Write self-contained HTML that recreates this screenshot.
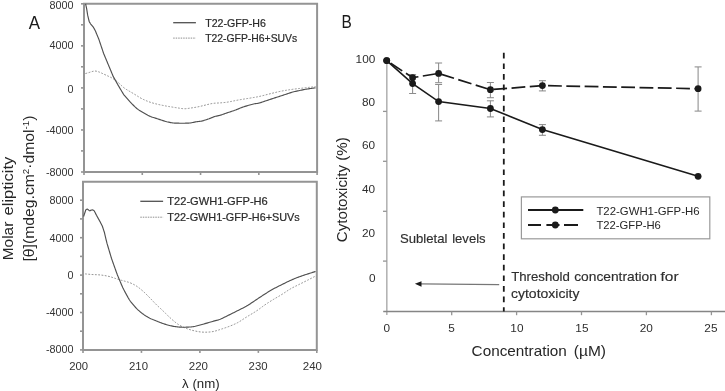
<!DOCTYPE html>
<html><head><meta charset="utf-8"><style>
html,body{margin:0;padding:0;background:#fff;width:725px;height:391px;overflow:hidden}
svg{display:block;will-change:transform}
text{font-family:"Liberation Sans",sans-serif;fill:#3a3a3a}
.tk{font-size:10.8px;fill:#333}
.tkb{font-size:11.8px;fill:#2e2e2e}
.lg{font-size:10.4px;fill:#2a2a2a;stroke:#2a2a2a;stroke-width:0.2px}
.lgb{font-size:11.2px;fill:#262626}
.xl{font-size:11.2px;fill:#333}
.ti{font-size:14.6px;fill:#262626}
.ti2{font-size:13px;fill:#262626}
.ti3{font-size:12.4px;fill:#2e2e2e;stroke:#2e2e2e;stroke-width:0.15px}
.big{font-size:19px;fill:#1a1a1a}
.big2{font-size:18px;fill:#1a1a1a}
</style></head><body>
<svg width="725" height="391" viewBox="0 0 725 391">
<path d="M84.0,3.8 V172 H317.1 V3.8 Z" fill="none" stroke="#949494" stroke-width="2"/>
<line x1="81.0" y1="3.8" x2="84.0" y2="3.8" stroke="#949494" stroke-width="1.6"/>
<line x1="81.0" y1="45.85" x2="84.0" y2="45.85" stroke="#949494" stroke-width="1.6"/>
<line x1="81.0" y1="87.9" x2="84.0" y2="87.9" stroke="#949494" stroke-width="1.6"/>
<line x1="81.0" y1="129.95" x2="84.0" y2="129.95" stroke="#949494" stroke-width="1.6"/>
<line x1="81.0" y1="172" x2="84.0" y2="172" stroke="#949494" stroke-width="1.6"/>
<line x1="81.0" y1="24.8" x2="84.0" y2="24.8" stroke="#949494" stroke-width="1.6"/>
<line x1="81.0" y1="66.8" x2="84.0" y2="66.8" stroke="#949494" stroke-width="1.6"/>
<line x1="81.0" y1="108.9" x2="84.0" y2="108.9" stroke="#949494" stroke-width="1.6"/>
<line x1="81.0" y1="150.9" x2="84.0" y2="150.9" stroke="#949494" stroke-width="1.6"/>
<line x1="84.00" y1="172" x2="84.00" y2="175" stroke="#949494" stroke-width="1.6"/>
<line x1="142.28" y1="172" x2="142.28" y2="175" stroke="#949494" stroke-width="1.6"/>
<line x1="200.55" y1="172" x2="200.55" y2="175" stroke="#949494" stroke-width="1.6"/>
<line x1="258.83" y1="172" x2="258.83" y2="175" stroke="#949494" stroke-width="1.6"/>
<line x1="317.10" y1="172" x2="317.10" y2="175" stroke="#949494" stroke-width="1.6"/>
<text x="73.5" y="8.9" text-anchor="end" class="tk">8000</text>
<text x="73.5" y="49.3" text-anchor="end" class="tk">4000</text>
<text x="73.5" y="93.0" text-anchor="end" class="tk">0</text>
<text x="73.5" y="134.3" text-anchor="end" class="tk">-4000</text>
<text x="73.5" y="176.1" text-anchor="end" class="tk">-8000</text>
<path d="M83.0,181.7 V349.9 H316.8 V181.7 Z" fill="none" stroke="#949494" stroke-width="2"/>
<line x1="80.0" y1="200.2" x2="83.0" y2="200.2" stroke="#949494" stroke-width="1.6"/>
<line x1="80.0" y1="237.7" x2="83.0" y2="237.7" stroke="#949494" stroke-width="1.6"/>
<line x1="80.0" y1="275.1" x2="83.0" y2="275.1" stroke="#949494" stroke-width="1.6"/>
<line x1="80.0" y1="312.5" x2="83.0" y2="312.5" stroke="#949494" stroke-width="1.6"/>
<line x1="80.0" y1="349.9" x2="83.0" y2="349.9" stroke="#949494" stroke-width="1.6"/>
<line x1="80.0" y1="218.9" x2="83.0" y2="218.9" stroke="#949494" stroke-width="1.6"/>
<line x1="80.0" y1="256.4" x2="83.0" y2="256.4" stroke="#949494" stroke-width="1.6"/>
<line x1="80.0" y1="293.8" x2="83.0" y2="293.8" stroke="#949494" stroke-width="1.6"/>
<line x1="80.0" y1="331.2" x2="83.0" y2="331.2" stroke="#949494" stroke-width="1.6"/>
<line x1="83.00" y1="349.9" x2="83.00" y2="352.9" stroke="#949494" stroke-width="1.6"/>
<line x1="141.45" y1="349.9" x2="141.45" y2="352.9" stroke="#949494" stroke-width="1.6"/>
<line x1="199.90" y1="349.9" x2="199.90" y2="352.9" stroke="#949494" stroke-width="1.6"/>
<line x1="258.35" y1="349.9" x2="258.35" y2="352.9" stroke="#949494" stroke-width="1.6"/>
<line x1="316.80" y1="349.9" x2="316.80" y2="352.9" stroke="#949494" stroke-width="1.6"/>
<text x="73.5" y="203.9" text-anchor="end" class="tk">8000</text>
<text x="73.5" y="241.6" text-anchor="end" class="tk">4000</text>
<text x="73.5" y="279.2" text-anchor="end" class="tk">0</text>
<text x="73.5" y="316.4" text-anchor="end" class="tk">-4000</text>
<text x="73.5" y="353.4" text-anchor="end" class="tk">-8000</text>
<path d="M85.45,73.55 L86.01,73.40 L86.72,73.21 L87.53,72.98 L88.42,72.72 L89.34,72.44 L90.28,72.14 L91.22,71.84 L92.15,71.54 L93.08,71.29 L94.01,71.12 L94.94,71.05 L95.87,71.10 L96.80,71.26 L97.73,71.52 L98.65,71.84 L99.57,72.20 L100.49,72.59 L101.41,72.99 L102.32,73.41 L103.23,73.83 L104.14,74.26 L105.04,74.68 L105.95,75.11 L106.86,75.53 L107.77,75.94 L108.68,76.36 L109.59,76.79 L110.49,77.22 L111.37,77.68 L112.24,78.17 L113.10,78.69 L113.93,79.23 L114.76,79.79 L115.57,80.38 L116.37,80.98 L117.15,81.60 L117.91,82.24 L118.66,82.91 L119.40,83.59 L120.12,84.28 L120.83,84.98 L121.55,85.67 L122.28,86.35 L123.03,87.01 L123.80,87.64 L124.59,88.24 L125.41,88.81 L126.25,89.35 L127.10,89.87 L127.96,90.39 L128.82,90.90 L129.69,91.40 L130.55,91.91 L131.42,92.41 L132.28,92.92 L133.15,93.43 L134.01,93.94 L134.87,94.46 L135.72,94.99 L136.57,95.52 L137.41,96.06 L138.26,96.59 L139.11,97.12 L139.97,97.63 L140.84,98.13 L141.71,98.61 L142.60,99.06 L143.50,99.50 L144.41,99.92 L145.33,100.33 L146.25,100.72 L147.17,101.10 L148.11,101.47 L149.05,101.82 L149.99,102.15 L150.94,102.46 L151.90,102.76 L152.86,103.05 L153.82,103.32 L154.79,103.58 L155.76,103.82 L156.73,104.06 L157.71,104.29 L158.69,104.52 L159.66,104.74 L160.64,104.95 L161.62,105.16 L162.60,105.37 L163.59,105.56 L164.57,105.75 L165.56,105.93 L166.55,106.10 L167.53,106.27 L168.52,106.44 L169.51,106.61 L170.50,106.77 L171.49,106.94 L172.48,107.10 L173.47,107.26 L174.46,107.42 L175.45,107.58 L176.44,107.73 L177.43,107.88 L178.42,108.03 L179.41,108.18 L180.40,108.33 L181.39,108.47 L182.38,108.60 L183.37,108.69 L184.35,108.73 L185.34,108.72 L186.32,108.66 L187.31,108.55 L188.29,108.41 L189.28,108.25 L190.27,108.09 L191.26,107.94 L192.25,107.80 L193.24,107.66 L194.23,107.52 L195.22,107.36 L196.21,107.19 L197.19,107.01 L198.17,106.80 L199.15,106.59 L200.12,106.36 L201.10,106.13 L202.08,105.90 L203.05,105.66 L204.02,105.42 L205.00,105.18 L205.97,104.93 L206.94,104.69 L207.91,104.45 L208.88,104.21 L209.86,103.98 L210.84,103.76 L211.82,103.57 L212.80,103.41 L213.79,103.29 L214.78,103.20 L215.78,103.13 L216.77,103.08 L217.77,103.03 L218.77,102.98 L219.77,102.92 L220.77,102.84 L221.77,102.76 L222.77,102.68 L223.77,102.59 L224.76,102.48 L225.76,102.37 L226.75,102.24 L227.74,102.09 L228.73,101.92 L229.71,101.73 L230.69,101.54 L231.67,101.33 L232.65,101.13 L233.64,100.93 L234.62,100.72 L235.60,100.53 L236.58,100.33 L237.57,100.15 L238.56,99.96 L239.54,99.79 L240.53,99.62 L241.52,99.46 L242.51,99.29 L243.50,99.14 L244.49,98.98 L245.48,98.83 L246.47,98.67 L247.46,98.52 L248.45,98.36 L249.44,98.20 L250.43,98.04 L251.42,97.88 L252.41,97.72 L253.40,97.55 L254.39,97.38 L255.37,97.21 L256.36,97.04 L257.35,96.85 L258.33,96.66 L259.31,96.45 L260.29,96.23 L261.26,96.00 L262.24,95.77 L263.21,95.52 L264.18,95.28 L265.15,95.03 L266.12,94.78 L267.09,94.53 L268.07,94.28 L269.04,94.04 L270.01,93.79 L270.98,93.55 L271.96,93.31 L272.93,93.07 L273.90,92.83 L274.88,92.59 L275.85,92.35 L276.82,92.11 L277.80,91.87 L278.77,91.65 L279.75,91.44 L280.73,91.24 L281.72,91.05 L282.70,90.88 L283.69,90.70 L284.68,90.54 L285.67,90.37 L286.66,90.20 L287.65,90.04 L288.64,89.88 L289.63,89.73 L290.62,89.58 L291.61,89.44 L292.60,89.30 L293.60,89.17 L294.59,89.04 L295.59,88.92 L296.58,88.80 L297.58,88.69 L298.57,88.57 L299.57,88.46 L300.57,88.35 L301.56,88.23 L302.56,88.12 L303.55,88.01 L304.55,87.89 L305.55,87.77 L306.54,87.65 L307.54,87.53 L308.53,87.41 L309.53,87.29 L310.52,87.17 L311.50,87.05 L312.46,86.94 L313.38,86.83 L314.22,86.74 L314.94,86.66 L315.52,86.60" fill="none" stroke="#8e8e8e" stroke-width="1.0" stroke-dasharray="1.8 1.5"/>
<path d="M85.60,3.80 L85.81,4.78 L86.02,5.76 L86.23,6.74 L86.43,7.72 L86.63,8.71 L86.79,9.70 L86.95,10.69 L87.11,11.68 L87.27,12.67 L87.43,13.66 L87.59,14.65 L87.78,15.63 L88.02,16.61 L88.25,17.58 L88.49,18.56 L88.72,19.53 L88.96,20.51 L89.20,21.48 L89.71,22.35 L90.22,23.21 L90.75,24.06 L91.39,24.83 L92.04,25.60 L92.68,26.36 L93.32,27.14 L93.81,28.01 L94.29,28.89 L94.78,29.77 L95.27,30.64 L95.66,31.57 L96.04,32.50 L96.43,33.42 L96.81,34.35 L97.19,35.28 L97.58,36.20 L97.96,37.13 L98.34,38.06 L98.73,38.98 L99.08,39.92 L99.39,40.87 L99.71,41.83 L100.03,42.78 L100.35,43.73 L100.67,44.68 L100.99,45.63 L101.31,46.58 L101.63,47.53 L101.95,48.48 L102.27,49.43 L102.59,50.38 L102.91,51.33 L103.23,52.29 L103.54,53.24 L103.92,54.17 L104.31,55.09 L104.69,56.02 L105.08,56.94 L105.47,57.87 L105.85,58.79 L106.24,59.72 L106.62,60.65 L107.01,61.57 L107.40,62.50 L107.78,63.42 L108.17,64.35 L108.56,65.27 L108.94,66.20 L109.33,67.13 L109.72,68.05 L110.10,68.98 L110.49,69.90 L110.87,70.83 L111.26,71.75 L111.65,72.68 L112.03,73.60 L112.42,74.53 L112.81,75.46 L113.19,76.38 L113.68,77.26 L114.17,78.13 L114.66,79.01 L115.15,79.89 L115.63,80.76 L116.12,81.64 L116.61,82.51 L117.10,83.39 L117.59,84.27 L118.08,85.14 L118.59,86.00 L119.11,86.86 L119.62,87.73 L120.13,88.59 L120.64,89.45 L121.16,90.31 L121.67,91.18 L122.18,92.04 L122.69,92.90 L123.20,93.76 L123.72,94.62 L124.38,95.38 L125.04,96.14 L125.70,96.89 L126.36,97.65 L127.01,98.41 L127.67,99.16 L128.33,99.92 L128.99,100.67 L129.66,101.42 L130.33,102.17 L131.03,102.89 L131.73,103.61 L132.43,104.32 L133.14,105.03 L133.85,105.74 L134.57,106.44 L135.29,107.13 L136.03,107.80 L136.79,108.44 L137.57,109.06 L138.37,109.65 L139.20,110.22 L140.03,110.76 L140.88,111.29 L141.74,111.81 L142.60,112.32 L143.47,112.83 L144.34,113.33 L145.21,113.83 L146.08,114.31 L146.97,114.79 L147.85,115.26 L148.75,115.70 L149.65,116.12 L150.57,116.51 L151.50,116.88 L152.44,117.21 L153.39,117.52 L154.35,117.82 L155.30,118.12 L156.26,118.42 L157.22,118.72 L158.17,119.03 L159.12,119.34 L160.08,119.66 L161.03,119.97 L161.98,120.29 L162.94,120.59 L163.89,120.89 L164.85,121.18 L165.82,121.46 L166.78,121.72 L167.76,121.96 L168.73,122.18 L169.71,122.38 L170.70,122.56 L171.69,122.73 L172.68,122.87 L173.67,122.98 L174.66,123.07 L175.66,123.13 L176.66,123.16 L177.66,123.18 L178.67,123.19 L179.67,123.20 L180.67,123.20 L181.67,123.20 L182.68,123.20 L183.68,123.20 L184.68,123.20 L185.69,123.19 L186.69,123.18 L187.69,123.15 L188.68,123.09 L189.67,123.00 L190.66,122.88 L191.64,122.71 L192.62,122.52 L193.59,122.32 L194.57,122.12 L195.55,121.94 L196.54,121.78 L197.52,121.65 L198.51,121.53 L199.50,121.40 L200.49,121.25 L201.46,121.07 L202.43,120.84 L203.40,120.59 L204.36,120.31 L205.31,120.01 L206.27,119.70 L207.22,119.39 L208.16,119.06 L209.11,118.72 L210.04,118.36 L210.97,117.99 L211.89,117.61 L212.81,117.23 L213.74,116.88 L214.68,116.57 L215.63,116.30 L216.59,116.07 L217.56,115.87 L218.52,115.66 L219.49,115.43 L220.45,115.17 L221.39,114.87 L222.34,114.55 L223.28,114.21 L224.22,113.87 L225.16,113.53 L226.11,113.20 L227.06,112.88 L228.01,112.56 L228.96,112.25 L229.92,111.94 L230.87,111.63 L231.82,111.32 L232.77,111.00 L233.72,110.67 L234.66,110.33 L235.60,109.98 L236.53,109.61 L237.46,109.24 L238.39,108.85 L239.32,108.47 L240.24,108.09 L241.18,107.72 L242.11,107.37 L243.05,107.03 L244.00,106.72 L244.96,106.42 L245.92,106.13 L246.88,105.85 L247.84,105.57 L248.80,105.29 L249.76,105.00 L250.72,104.71 L251.68,104.44 L252.65,104.20 L253.62,103.98 L254.60,103.80 L255.58,103.64 L256.56,103.49 L257.54,103.32 L258.51,103.12 L259.48,102.89 L260.44,102.63 L261.40,102.34 L262.35,102.04 L263.31,101.72 L264.26,101.40 L265.21,101.08 L266.16,100.76 L267.11,100.44 L268.06,100.12 L269.01,99.80 L269.96,99.48 L270.91,99.17 L271.86,98.85 L272.82,98.54 L273.77,98.23 L274.72,97.92 L275.68,97.61 L276.63,97.30 L277.59,97.00 L278.54,96.69 L279.50,96.38 L280.45,96.07 L281.41,95.76 L282.36,95.44 L283.31,95.13 L284.26,94.81 L285.21,94.49 L286.16,94.17 L287.11,93.85 L288.06,93.53 L289.01,93.21 L289.97,92.90 L290.92,92.60 L291.88,92.31 L292.85,92.04 L293.81,91.79 L294.79,91.55 L295.77,91.33 L296.75,91.12 L297.73,90.91 L298.71,90.70 L299.69,90.49 L300.67,90.28 L301.65,90.07 L302.63,89.86 L303.61,89.67 L304.60,89.48 L305.59,89.30 L306.57,89.13 L307.56,88.96 L308.55,88.81 L309.54,88.66 L310.53,88.51 L311.51,88.37 L312.47,88.24 L313.39,88.12 L314.22,88.00 L314.95,87.91 L315.52,87.83" fill="none" stroke="#505050" stroke-width="1.15"/>
<path d="M85.08,273.90 L85.66,273.95 L86.39,274.02 L87.23,274.10 L88.15,274.19 L89.11,274.28 L90.10,274.37 L91.09,274.45 L92.09,274.52 L93.09,274.57 L94.09,274.62 L95.10,274.66 L96.10,274.70 L97.10,274.74 L98.10,274.79 L99.10,274.86 L100.10,274.94 L101.09,275.05 L102.08,275.18 L103.08,275.32 L104.07,275.47 L105.06,275.63 L106.04,275.81 L107.03,275.99 L108.01,276.20 L108.98,276.42 L109.95,276.68 L110.91,276.96 L111.86,277.26 L112.81,277.57 L113.76,277.89 L114.71,278.21 L115.66,278.54 L116.61,278.85 L117.57,279.16 L118.53,279.46 L119.49,279.74 L120.45,280.01 L121.42,280.28 L122.39,280.54 L123.36,280.79 L124.33,281.05 L125.30,281.31 L126.26,281.57 L127.23,281.84 L128.18,282.13 L129.13,282.45 L130.07,282.79 L130.99,283.17 L131.90,283.58 L132.80,284.01 L133.70,284.46 L134.58,284.93 L135.45,285.42 L136.30,285.94 L137.13,286.49 L137.95,287.07 L138.75,287.67 L139.53,288.28 L140.31,288.92 L141.08,289.55 L141.85,290.20 L142.61,290.86 L143.36,291.52 L144.10,292.20 L144.83,292.88 L145.55,293.58 L146.27,294.28 L146.98,294.99 L147.69,295.69 L148.40,296.40 L149.10,297.12 L149.81,297.83 L150.51,298.55 L151.20,299.27 L151.89,300.00 L152.58,300.73 L153.27,301.46 L153.96,302.19 L154.65,302.91 L155.35,303.63 L156.06,304.34 L156.77,305.05 L157.50,305.74 L158.23,306.43 L158.96,307.11 L159.70,307.78 L160.44,308.46 L161.18,309.14 L161.91,309.83 L162.64,310.51 L163.37,311.21 L164.09,311.91 L164.80,312.61 L165.51,313.32 L166.22,314.02 L166.94,314.73 L167.65,315.44 L168.36,316.14 L169.08,316.84 L169.81,317.53 L170.55,318.20 L171.30,318.87 L172.06,319.53 L172.82,320.18 L173.59,320.82 L174.36,321.46 L175.14,322.10 L175.92,322.72 L176.71,323.33 L177.52,323.91 L178.35,324.46 L179.20,324.99 L180.07,325.48 L180.94,325.96 L181.83,326.42 L182.73,326.87 L183.63,327.30 L184.54,327.72 L185.46,328.11 L186.39,328.48 L187.33,328.82 L188.28,329.14 L189.23,329.44 L190.19,329.73 L191.16,330.00 L192.12,330.27 L193.09,330.52 L194.07,330.76 L195.04,330.99 L196.02,331.20 L197.01,331.39 L197.99,331.58 L198.98,331.74 L199.97,331.89 L200.96,332.00 L201.95,332.09 L202.95,332.14 L203.95,332.17 L204.95,332.18 L205.95,332.18 L206.95,332.16 L207.96,332.12 L208.95,332.06 L209.95,331.98 L210.95,331.87 L211.94,331.74 L212.92,331.57 L213.90,331.37 L214.87,331.13 L215.83,330.87 L216.79,330.58 L217.74,330.28 L218.70,329.97 L219.65,329.66 L220.60,329.35 L221.56,329.03 L222.51,328.72 L223.46,328.41 L224.42,328.10 L225.37,327.78 L226.32,327.46 L227.26,327.12 L228.20,326.78 L229.14,326.43 L230.07,326.06 L231.00,325.68 L231.93,325.30 L232.85,324.91 L233.77,324.51 L234.69,324.11 L235.60,323.69 L236.50,323.26 L237.39,322.80 L238.27,322.32 L239.13,321.81 L239.98,321.29 L240.82,320.75 L241.66,320.20 L242.50,319.65 L243.34,319.10 L244.18,318.55 L245.02,318.00 L245.86,317.46 L246.71,316.92 L247.56,316.39 L248.42,315.87 L249.28,315.35 L250.14,314.84 L251.00,314.33 L251.87,313.82 L252.73,313.31 L253.59,312.79 L254.44,312.27 L255.29,311.73 L256.13,311.19 L256.96,310.62 L257.78,310.05 L258.60,309.47 L259.41,308.88 L260.22,308.28 L261.02,307.69 L261.83,307.09 L262.64,306.50 L263.45,305.91 L264.27,305.33 L265.09,304.76 L265.92,304.20 L266.76,303.64 L267.60,303.09 L268.44,302.55 L269.29,302.01 L270.13,301.47 L270.98,300.94 L271.83,300.41 L272.69,299.88 L273.54,299.36 L274.41,298.85 L275.27,298.34 L276.13,297.83 L277.00,297.33 L277.87,296.82 L278.74,296.32 L279.60,295.81 L280.46,295.30 L281.32,294.77 L282.17,294.24 L283.01,293.70 L283.85,293.15 L284.69,292.60 L285.52,292.04 L286.35,291.48 L287.19,290.92 L288.02,290.37 L288.87,289.83 L289.72,289.30 L290.58,288.80 L291.45,288.31 L292.34,287.83 L293.23,287.37 L294.12,286.92 L295.02,286.47 L295.92,286.02 L296.82,285.58 L297.71,285.13 L298.61,284.69 L299.51,284.24 L300.41,283.79 L301.31,283.35 L302.20,282.90 L303.10,282.45 L304.00,282.00 L304.89,281.55 L305.79,281.10 L306.69,280.65 L307.58,280.19 L308.47,279.74 L309.37,279.28 L310.26,278.82 L311.15,278.36 L312.03,277.91 L312.89,277.46 L313.71,277.04 L314.46,276.65 L315.11,276.32 L315.62,276.05" fill="none" stroke="#8e8e8e" stroke-width="1.0" stroke-dasharray="1.8 1.5"/>
<path d="M83.60,216.50 L83.92,215.55 L84.23,214.60 L84.55,213.65 L84.87,212.70 L85.18,211.76 L85.50,210.81 L85.84,209.87 L86.65,209.29 L87.45,209.11 L88.22,209.75 L88.99,210.39 L89.78,210.81 L90.68,210.38 L91.58,209.95 L92.49,209.88 L93.40,210.29 L94.21,210.81 L94.66,211.70 L95.12,212.59 L95.57,213.48 L96.03,214.37 L96.48,215.26 L96.96,216.14 L97.45,217.02 L97.93,217.89 L98.42,218.76 L98.91,219.64 L99.39,220.51 L99.88,221.39 L100.37,222.26 L100.82,223.15 L101.27,224.04 L101.72,224.94 L102.17,225.83 L102.55,226.75 L102.86,227.70 L103.17,228.65 L103.48,229.60 L103.79,230.56 L104.11,231.51 L104.39,232.46 L104.62,233.44 L104.85,234.41 L105.08,235.38 L105.32,236.36 L105.55,237.33 L105.78,238.30 L106.01,239.28 L106.24,240.25 L106.48,241.22 L106.71,242.19 L106.95,243.16 L107.24,244.12 L107.52,245.08 L107.81,246.04 L108.09,247.00 L108.38,247.96 L108.67,248.91 L108.95,249.87 L109.24,250.83 L109.53,251.79 L109.81,252.75 L110.10,253.71 L110.38,254.67 L110.67,255.62 L110.96,256.58 L111.25,257.54 L111.54,258.49 L111.87,259.44 L112.20,260.38 L112.54,261.33 L112.87,262.27 L113.20,263.21 L113.54,264.15 L113.87,265.10 L114.20,266.04 L114.54,266.98 L114.87,267.93 L115.21,268.87 L115.54,269.81 L115.88,270.75 L116.21,271.70 L116.55,272.64 L116.90,273.57 L117.25,274.51 L117.62,275.44 L118.00,276.36 L118.38,277.29 L118.76,278.21 L119.15,279.14 L119.54,280.06 L119.92,280.98 L120.31,281.90 L120.70,282.82 L121.09,283.75 L121.48,284.67 L121.87,285.58 L122.28,286.50 L122.69,287.41 L123.12,288.31 L123.56,289.21 L124.02,290.10 L124.48,290.98 L124.96,291.86 L125.43,292.74 L125.91,293.62 L126.39,294.49 L126.87,295.37 L127.36,296.25 L127.84,297.12 L128.33,297.99 L128.84,298.85 L129.36,299.70 L129.90,300.54 L130.47,301.35 L131.06,302.15 L131.68,302.93 L132.31,303.71 L132.95,304.47 L133.60,305.24 L134.25,305.99 L134.91,306.74 L135.58,307.49 L136.26,308.21 L136.96,308.92 L137.68,309.61 L138.42,310.28 L139.18,310.93 L139.94,311.58 L140.71,312.21 L141.49,312.84 L142.27,313.46 L143.07,314.06 L143.88,314.65 L144.70,315.21 L145.53,315.76 L146.38,316.29 L147.24,316.80 L148.10,317.30 L148.97,317.78 L149.86,318.23 L150.76,318.66 L151.67,319.07 L152.59,319.46 L153.52,319.83 L154.44,320.20 L155.37,320.57 L156.30,320.93 L157.23,321.30 L158.16,321.67 L159.09,322.04 L160.02,322.41 L160.96,322.77 L161.89,323.12 L162.83,323.45 L163.78,323.78 L164.73,324.09 L165.68,324.39 L166.64,324.68 L167.60,324.96 L168.56,325.23 L169.53,325.48 L170.50,325.72 L171.47,325.93 L172.45,326.13 L173.43,326.31 L174.42,326.48 L175.40,326.63 L176.39,326.77 L177.38,326.89 L178.38,326.99 L179.37,327.07 L180.37,327.13 L181.37,327.17 L182.36,327.20 L183.36,327.22 L184.36,327.22 L185.36,327.21 L186.36,327.19 L187.36,327.16 L188.36,327.11 L189.35,327.05 L190.35,326.97 L191.34,326.88 L192.33,326.76 L193.32,326.62 L194.30,326.45 L195.28,326.25 L196.25,326.02 L197.22,325.78 L198.19,325.53 L199.15,325.28 L200.12,325.02 L201.08,324.76 L202.05,324.49 L203.01,324.22 L203.97,323.95 L204.93,323.67 L205.90,323.40 L206.86,323.12 L207.82,322.84 L208.78,322.56 L209.74,322.28 L210.70,322.00 L211.66,321.72 L212.62,321.44 L213.58,321.17 L214.54,320.91 L215.51,320.66 L216.48,320.42 L217.44,320.16 L218.39,319.88 L219.33,319.57 L220.26,319.22 L221.17,318.84 L222.08,318.42 L222.98,318.00 L223.88,317.56 L224.77,317.11 L225.67,316.66 L226.56,316.22 L227.46,315.77 L228.35,315.32 L229.25,314.88 L230.14,314.43 L231.04,313.98 L231.93,313.53 L232.83,313.09 L233.72,312.64 L234.62,312.19 L235.51,311.74 L236.41,311.30 L237.30,310.85 L238.19,310.40 L239.09,309.96 L239.98,309.51 L240.88,309.06 L241.77,308.61 L242.67,308.16 L243.56,307.71 L244.44,307.25 L245.33,306.78 L246.20,306.30 L247.06,305.80 L247.92,305.28 L248.76,304.74 L249.60,304.20 L250.43,303.65 L251.26,303.09 L252.09,302.53 L252.92,301.97 L253.75,301.42 L254.58,300.86 L255.41,300.30 L256.24,299.75 L257.08,299.19 L257.91,298.64 L258.74,298.08 L259.58,297.53 L260.41,296.98 L261.24,296.42 L262.08,295.87 L262.91,295.32 L263.75,294.78 L264.59,294.23 L265.43,293.70 L266.28,293.16 L267.13,292.63 L267.98,292.11 L268.83,291.59 L269.69,291.07 L270.54,290.55 L271.40,290.04 L272.27,289.54 L273.14,289.05 L274.01,288.57 L274.90,288.10 L275.79,287.64 L276.68,287.19 L277.57,286.74 L278.47,286.30 L279.36,285.85 L280.26,285.41 L281.16,284.96 L282.05,284.52 L282.95,284.07 L283.84,283.63 L284.74,283.18 L285.63,282.73 L286.53,282.29 L287.42,281.85 L288.32,281.41 L289.23,280.98 L290.13,280.56 L291.04,280.15 L291.96,279.74 L292.88,279.35 L293.80,278.97 L294.72,278.58 L295.65,278.20 L296.58,277.83 L297.51,277.47 L298.44,277.11 L299.38,276.76 L300.32,276.42 L301.26,276.09 L302.21,275.77 L303.16,275.45 L304.11,275.13 L305.06,274.82 L306.01,274.51 L306.96,274.20 L307.91,273.89 L308.86,273.59 L309.82,273.29 L310.77,272.99 L311.71,272.69 L312.63,272.41 L313.51,272.13 L314.31,271.88 L315.01,271.66 L315.56,271.49" fill="none" stroke="#505050" stroke-width="1.15"/>
<line x1="173.2" y1="22.7" x2="195.9" y2="22.7" stroke="#505050" stroke-width="1.3"/>
<line x1="173.2" y1="38.1" x2="195.9" y2="38.1" stroke="#8e8e8e" stroke-width="1.0" stroke-dasharray="1.5 1"/>
<text x="205.2" y="26.7" class="lg" textLength="60.7" lengthAdjust="spacingAndGlyphs">T22-GFP-H6</text>
<text x="205.2" y="41.5" class="lg" textLength="92" lengthAdjust="spacingAndGlyphs">T22-GFP-H6+SUVs</text>
<line x1="140.3" y1="201.3" x2="163.1" y2="201.3" stroke="#505050" stroke-width="1.3"/>
<line x1="140.3" y1="217.2" x2="163.1" y2="217.2" stroke="#8e8e8e" stroke-width="1.0" stroke-dasharray="1.5 1"/>
<text x="167.3" y="205.2" class="lg" textLength="100.5" lengthAdjust="spacingAndGlyphs">T22-GWH1-GFP-H6</text>
<text x="167.3" y="220.8" class="lg" textLength="132.5" lengthAdjust="spacingAndGlyphs">T22-GWH1-GFP-H6+SUVs</text>
<text x="69.2" y="369.9" class="xl" textLength="18.9" lengthAdjust="spacingAndGlyphs">200</text>
<text x="129" y="369.9" class="xl" textLength="19.0" lengthAdjust="spacingAndGlyphs">210</text>
<text x="188.8" y="369.9" class="xl" textLength="19.2" lengthAdjust="spacingAndGlyphs">220</text>
<text x="248.6" y="369.9" class="xl" textLength="19.0" lengthAdjust="spacingAndGlyphs">230</text>
<text x="302.8" y="369.9" class="xl" textLength="19.2" lengthAdjust="spacingAndGlyphs">240</text>
<text x="182.1" y="387.9" class="ti2" textLength="37.6" lengthAdjust="spacingAndGlyphs">λ (nm)</text>
<text x="28.7" y="28.8" class="big" textLength="11.3" lengthAdjust="spacingAndGlyphs">A</text>
<text x="341.6" y="27.8" class="big2" textLength="10.3" lengthAdjust="spacingAndGlyphs">B</text>
<text transform="translate(13.1,260.3) rotate(-90)" class="ti" textLength="38.6" lengthAdjust="spacingAndGlyphs">Molar</text>
<text transform="translate(13.1,215.4) rotate(-90)" class="ti" textLength="58.6" lengthAdjust="spacingAndGlyphs">elipticity</text>
<text transform="translate(33.8,261.5) rotate(-90)" class="ti" textLength="146" lengthAdjust="spacingAndGlyphs">[θ](mdeg.cm<tspan font-size="9" dy="-5">2</tspan><tspan dy="5">·dmol</tspan><tspan font-size="9" dy="-5">-1</tspan><tspan dy="5">)</tspan></text>
<line x1="386.8" y1="60" x2="386.8" y2="315" stroke="#b4b4b4" stroke-width="1.6"/>
<line x1="383.2" y1="311.5" x2="725" y2="311.5" stroke="#858585" stroke-width="1.35"/>
<line x1="383" y1="111.4" x2="386.8" y2="111.4" stroke="#949494" stroke-width="1.3"/>
<line x1="383" y1="161.3" x2="386.8" y2="161.3" stroke="#949494" stroke-width="1.3"/>
<line x1="383" y1="211.3" x2="386.8" y2="211.3" stroke="#949494" stroke-width="1.3"/>
<line x1="383" y1="261.1" x2="386.8" y2="261.1" stroke="#949494" stroke-width="1.3"/>
<line x1="451.7" y1="311.4" x2="451.7" y2="315.2" stroke="#949494" stroke-width="1.3"/>
<line x1="516.6" y1="311.4" x2="516.6" y2="315.2" stroke="#949494" stroke-width="1.3"/>
<line x1="581.5" y1="311.4" x2="581.5" y2="315.2" stroke="#949494" stroke-width="1.3"/>
<line x1="646.4" y1="311.4" x2="646.4" y2="315.2" stroke="#949494" stroke-width="1.3"/>
<line x1="711.4" y1="311.4" x2="711.4" y2="315.2" stroke="#949494" stroke-width="1.3"/>
<text x="375.3" y="63.0" text-anchor="end" class="tkb">100</text>
<text x="375.20000000000005" y="105.6" text-anchor="end" class="tkb">80</text>
<text x="375.20000000000005" y="149.3" text-anchor="end" class="tkb">60</text>
<text x="375.20000000000005" y="193.2" text-anchor="end" class="tkb">40</text>
<text x="375.20000000000005" y="236.8" text-anchor="end" class="tkb">20</text>
<text x="375.6" y="282" text-anchor="end" class="tkb">0</text>
<text x="386.9" y="331.6" text-anchor="middle" class="tkb">0</text>
<text x="451.5" y="331.6" text-anchor="middle" class="tkb">5</text>
<text x="516.9" y="331.6" text-anchor="middle" class="tkb">10</text>
<text x="581.9" y="331.6" text-anchor="middle" class="tkb">15</text>
<text x="646.3" y="331.6" text-anchor="middle" class="tkb">20</text>
<text x="710.9" y="331.6" text-anchor="middle" class="tkb">25</text>
<text x="471.6" y="356.3" class="ti" textLength="95.2" lengthAdjust="spacingAndGlyphs">Concentration</text>
<text x="573.8" y="356.3" class="ti" textLength="32.2" lengthAdjust="spacingAndGlyphs">(µM)</text>
<text transform="translate(347,242.2) rotate(-90)" class="ti" textLength="105" lengthAdjust="spacingAndGlyphs">Cytotoxicity (%)</text>
<line x1="503.8" y1="52.8" x2="503.8" y2="311.4" stroke="#1a1a1a" stroke-width="1.8" stroke-dasharray="5.7 4.9"/>
<line x1="412.6" y1="74.6" x2="412.6" y2="93.5" stroke="#8c8c8c" stroke-width="1.05"/>
<line x1="409.1" y1="74.6" x2="416.1" y2="74.6" stroke="#8c8c8c" stroke-width="1.05"/>
<line x1="409.1" y1="93.5" x2="416.1" y2="93.5" stroke="#8c8c8c" stroke-width="1.05"/>
<line x1="438.6" y1="63" x2="438.6" y2="82.7" stroke="#8c8c8c" stroke-width="1.05"/>
<line x1="435.1" y1="63" x2="442.1" y2="63" stroke="#8c8c8c" stroke-width="1.05"/>
<line x1="435.1" y1="82.7" x2="442.1" y2="82.7" stroke="#8c8c8c" stroke-width="1.05"/>
<line x1="438.6" y1="84.5" x2="438.6" y2="120.9" stroke="#8c8c8c" stroke-width="1.05"/>
<line x1="435.1" y1="84.5" x2="442.1" y2="84.5" stroke="#8c8c8c" stroke-width="1.05"/>
<line x1="435.1" y1="120.9" x2="442.1" y2="120.9" stroke="#8c8c8c" stroke-width="1.05"/>
<line x1="490.4" y1="82.5" x2="490.4" y2="97.7" stroke="#8c8c8c" stroke-width="1.05"/>
<line x1="486.9" y1="82.5" x2="493.9" y2="82.5" stroke="#8c8c8c" stroke-width="1.05"/>
<line x1="486.9" y1="97.7" x2="493.9" y2="97.7" stroke="#8c8c8c" stroke-width="1.05"/>
<line x1="490.4" y1="100.8" x2="490.4" y2="116.9" stroke="#8c8c8c" stroke-width="1.05"/>
<line x1="486.9" y1="100.8" x2="493.9" y2="100.8" stroke="#8c8c8c" stroke-width="1.05"/>
<line x1="486.9" y1="116.9" x2="493.9" y2="116.9" stroke="#8c8c8c" stroke-width="1.05"/>
<line x1="542.4" y1="80.7" x2="542.4" y2="90.9" stroke="#8c8c8c" stroke-width="1.05"/>
<line x1="538.9" y1="80.7" x2="545.9" y2="80.7" stroke="#8c8c8c" stroke-width="1.05"/>
<line x1="538.9" y1="90.9" x2="545.9" y2="90.9" stroke="#8c8c8c" stroke-width="1.05"/>
<line x1="542.4" y1="124.6" x2="542.4" y2="135.3" stroke="#8c8c8c" stroke-width="1.05"/>
<line x1="538.9" y1="124.6" x2="545.9" y2="124.6" stroke="#8c8c8c" stroke-width="1.05"/>
<line x1="538.9" y1="135.3" x2="545.9" y2="135.3" stroke="#8c8c8c" stroke-width="1.05"/>
<line x1="698.1" y1="66.9" x2="698.1" y2="111.1" stroke="#8c8c8c" stroke-width="1.05"/>
<line x1="694.6" y1="66.9" x2="701.6" y2="66.9" stroke="#8c8c8c" stroke-width="1.05"/>
<line x1="694.6" y1="111.1" x2="701.6" y2="111.1" stroke="#8c8c8c" stroke-width="1.05"/>
<polyline points="386.7,60.6 412.6,77.7 438.6,73.4 490.4,89.7 542.4,85.6 698.1,88.7" fill="none" stroke="#1a1a1a" stroke-width="1.7" stroke-dasharray="13.8 4.5" stroke-dashoffset="13.5"/>
<polyline points="386.7,60.6 412.6,83.6 438.6,101.6 490.4,108.5 542.4,129.6 698.1,176.3" fill="none" stroke="#1a1a1a" stroke-width="1.6"/>
<circle cx="386.7" cy="60.6" r="3.4" fill="#1a1a1a"/>
<circle cx="412.6" cy="83.6" r="3.4" fill="#1a1a1a"/>
<circle cx="438.6" cy="101.6" r="3.4" fill="#1a1a1a"/>
<circle cx="490.4" cy="108.5" r="3.4" fill="#1a1a1a"/>
<circle cx="542.4" cy="129.6" r="3.4" fill="#1a1a1a"/>
<circle cx="698.1" cy="176.3" r="3.4" fill="#1a1a1a"/>
<circle cx="386.7" cy="60.6" r="3.4" fill="#1a1a1a"/>
<circle cx="412.6" cy="77.7" r="3.4" fill="#1a1a1a"/>
<circle cx="438.6" cy="73.4" r="3.4" fill="#1a1a1a"/>
<circle cx="490.4" cy="89.7" r="3.4" fill="#1a1a1a"/>
<circle cx="542.4" cy="85.6" r="3.4" fill="#1a1a1a"/>
<circle cx="698.1" cy="88.7" r="3.4" fill="#1a1a1a"/>
<line x1="420" y1="283.9" x2="499.2" y2="284.6" stroke="#777" stroke-width="1.2"/>
<path d="M414.9,283.8 L421.5,281.2 L421.5,286.8 Z" fill="#1a1a1a"/>
<text x="400.0" y="243.2" class="ti3" textLength="47.4" lengthAdjust="spacingAndGlyphs">Subletal</text>
<text x="452.2" y="243.2" class="ti3" textLength="33.4" lengthAdjust="spacingAndGlyphs">levels</text>
<text x="511.2" y="281.2" class="ti3" textLength="58.7" lengthAdjust="spacingAndGlyphs">Threshold</text>
<text x="574.2" y="281.2" class="ti3" textLength="82.7" lengthAdjust="spacingAndGlyphs">concentration</text>
<text x="660.6" y="281.2" class="ti3" textLength="18.0" lengthAdjust="spacingAndGlyphs">for</text>
<text x="511" y="297.8" class="ti3" textLength="68.4" lengthAdjust="spacingAndGlyphs">cytotoxicity</text>
<rect x="521.4" y="196.9" width="188.4" height="41.9" fill="#fff" stroke="#9a9a9a" stroke-width="1.2"/>
<line x1="528" y1="210" x2="583.3" y2="210" stroke="#1a1a1a" stroke-width="1.8"/>
<circle cx="555.3" cy="210" r="3.4" fill="#1a1a1a"/>
<path d="M528,225 H541 M546.4,225 H559.5 M564,225 H578" stroke="#1a1a1a" stroke-width="1.8"/>
<circle cx="555.3" cy="225" r="3.4" fill="#1a1a1a"/>
<text x="596.4" y="214.7" class="lgb" textLength="103.1" lengthAdjust="spacingAndGlyphs">T22-GWH1-GFP-H6</text>
<text x="596.4" y="228.9" class="lgb" textLength="64.4" lengthAdjust="spacingAndGlyphs">T22-GFP-H6</text>
</svg>
</body></html>
